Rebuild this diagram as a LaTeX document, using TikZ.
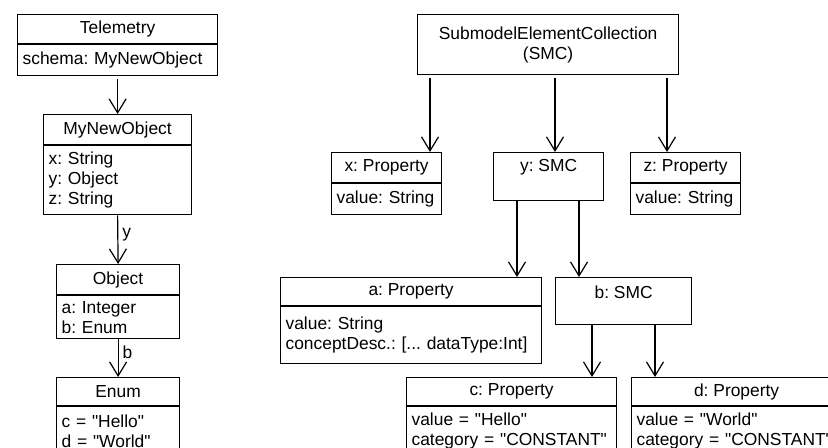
\documentclass[tikz,border=0pt]{standalone}
\usepackage{fontspec}
\setmainfont{Liberation Sans}
\usetikzlibrary{arrows.meta,positioning,calc}
\frenchspacing
\newcommand{\qt}[1]{\textquotedbl#1\textquotedbl}

\begin{document}
\begin{tikzpicture}[
    x=0.5pt, y=-0.5pt,
    font=\fontsize{8.7}{10}\selectfont,
    line width=0.6pt,
    >={Straight Barb[length=7pt,width=8.5pt]},
    box/.style={rectangle, draw, anchor=north west, inner sep=0pt},
    head/.style={box, align=center},
    attr/.style={box, inner xsep=2.5pt, align=left},
    title/.style={anchor=north, inner sep=0pt, minimum height=15pt}
]
    \useasboundingbox (0,0) rectangle (828,448);
    \clip (0,0) rectangle (828,448);

    % Schema side
    \node[head, minimum width=100pt, minimum height=14.5pt] (tel) at (17,14) {Telemetry};
    \node[attr, text width=95pt, minimum height=15.5pt] (telattr) at (tel.south west) {schema: MyNewObject};

    \node[head, minimum width=74pt, minimum height=15pt] (mno) at (43,114) {MyNewObject};
    \node[attr, text width=69pt, minimum height=34.5pt] (mnoattr) at (mno.south west) {x: String\\y: Object\\z: String};

    \node[head, minimum width=61.5pt, minimum height=15pt] (obj) at (56,264) {Object};
    \node[attr, text width=56.5pt, minimum height=21.5pt] (objattr) at (obj.south west) {a: Integer\\b: Enum};

    \node[head, minimum width=61.5pt, minimum height=14pt] (enum) at (56,377) {Enum};
    \node[attr, text width=56.5pt, minimum height=24pt] (enumattr) at (enum.south west) {c = \qt{Hello}\\d = \qt{World}};

    % Submodel side
    \node[head, minimum width=130.5pt, minimum height=30pt] (smc) at (417,14) {SubmodelElementCollection\\(SMC)};

    \node[head, minimum width=55pt, minimum height=15pt] (xp) at (331,152) {x: Property};
    \node[attr, text width=50pt, minimum height=15.5pt] (xpattr) at (xp.south west) {value: String};

    \node[box, minimum width=55pt, minimum height=24pt] (ys) at (493,152) {};
    \node[title] (ystitle) at (ys.north) {y: SMC};

    \node[head, minimum width=55pt, minimum height=15pt] (zp) at (630,152) {z: Property};
    \node[attr, text width=50pt, minimum height=15.5pt] (zpattr) at (zp.south west) {value: String};

    \node[head, minimum width=130.5pt, minimum height=14pt] (ap) at (280,277) {a: Property};
    \node[attr, text width=125.5pt, minimum height=28.5pt] (apattr) at (ap.south west) {value: String\\conceptDesc.: [... dataType:Int]};

    \node[box, minimum width=68pt, minimum height=23.5pt] (bs) at (555,277) {};
    \node[title] (bstitle) at (bs.north) {b: SMC};

    \node[head, minimum width=105pt, minimum height=14pt] (cp) at (406,377) {c: Property};
    \node[attr, text width=100pt, minimum height=24pt] (cpattr) at (cp.south west) {value = \qt{Hello}\\category = \qt{CONSTANT}};

    \node[head, minimum width=105pt, minimum height=14pt] (dp) at (631,377) {d: Property};
    \node[attr, text width=100pt, minimum height=24pt] (dpattr) at (dp.south west) {value = \qt{World}\\category = \qt{CONSTANT}};

    % Edges
    \draw[->, shorten <=1.5pt] (telattr.south) -- (mno.north);
    \draw[->] (mnoattr.south) -- node[right, pos=0.4, inner sep=2pt] {y} (obj.north);
    \draw[->] (objattr.south) -- node[right, pos=0.35, inner sep=2pt] {b} (enum.north);

    \draw[->, shorten <=1.5pt] (smc.south -| 430,0) -- (xp.north -| 430,0);
    \draw[->, shorten <=1.5pt] (smc.south -| 555,0) -- (ys.north -| 555,0);
    \draw[->, shorten <=1.5pt] (smc.south -| 667,0) -- (zp.north -| 667,0);
    \draw[->] (ys.south -| 517,0) -- (ap.north -| 517,0);
    \draw[->] (ys.south -| 579,0) -- (bs.north -| 579,0);
    \draw[->] (bs.south -| 592,0) -- (cp.north -| 592,0);
    \draw[->] (bs.south -| 655,0) -- (dp.north -| 655,0);
\end{tikzpicture}
\end{document}
